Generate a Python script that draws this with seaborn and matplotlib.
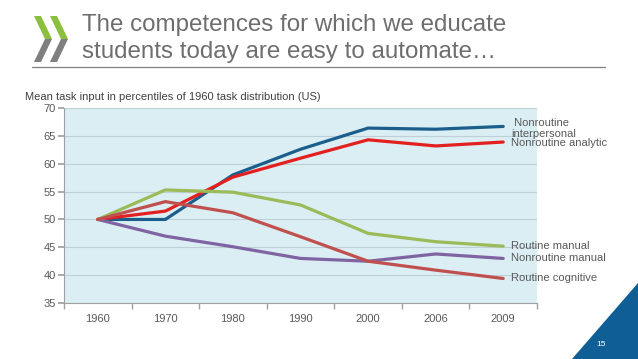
import matplotlib
matplotlib.use('Agg')
import matplotlib.pyplot as plt
import seaborn as sns
import pandas as pd
from matplotlib.patches import Polygon

# data
years = ['1960', '1970', '1980', '1990', '2000', '2006', '2009']
nonroutine_interpersonal = [50, 50, 58.0, 62.6, 66.4, 66.2, 66.7]
nonroutine_analytic = [50, 51.5, 57.6, 61.0, 64.3, 63.2, 63.9]
routine_manual = [50, 55.3, 54.9, 52.6, 47.5, 46.0, 45.2]
nonroutine_manual = [50, 47.0, 45.1, 43.0, 42.5, 43.8, 43.0]
routine_cognitive = [50, 53.2, 51.2, 46.9, 42.5, 40.9, 39.4]

series_names = ['Nonroutine interpersonal', 'Nonroutine analytic', 'Routine manual',
                'Nonroutine manual', 'Routine cognitive']
series_values = [nonroutine_interpersonal, nonroutine_analytic, routine_manual,
                 nonroutine_manual, routine_cognitive]
label_texts = [' Nonroutine\ninterpersonal', 'Nonroutine analytic', 'Routine manual',
               'Nonroutine manual', 'Routine cognitive']
colors = ['#1B5E8B', '#E3201F', '#9BBB59', '#8064A2', '#C0504D']

df = pd.DataFrame([
    {'year': y, 'value': v, 'series': name}
    for name, vals in zip(series_names, series_values)
    for y, v in zip(years, vals)
])

sns.set_theme(style='white')
plt.rcParams['font.family'] = ['Liberation Sans', 'DejaVu Sans']

fig = plt.figure(figsize=(6.38, 3.59), dpi=100)
ax = fig.add_axes([0.1003, 0.156, 0.7414, 0.543])
ax.set_facecolor('#DAEEF3')

sns.lineplot(data=df, x='year', y='value', hue='series', hue_order=series_names,
             palette=colors, linewidth=2.3, legend=False, ax=ax, sort=False)

ax.set_xlim(-0.5, len(years) - 0.5)
ax.set_ylim(35, 70)
ax.set_yticks(range(35, 71, 5))
ax.set_xticks(range(len(years)))
ax.set_xticklabels(years)
ax.set_xticks([i - 0.5 for i in range(len(years) + 1)], minor=True)
ax.tick_params(axis='x', which='major', length=0, labelsize=8, colors='#595959', pad=8)
ax.tick_params(axis='x', which='minor', length=4, color='#A0A0A0', direction='out', bottom=True)
ax.tick_params(axis='y', length=4, color='#A0A0A0', labelsize=8, labelcolor='#595959',
               left=True, pad=2)
ax.yaxis.grid(True, color='#BFCFD6', linewidth=0.8)
ax.set_axisbelow(True)
for side in ['top', 'right']:
    ax.spines[side].set_visible(False)
for side in ['left', 'bottom']:
    ax.spines[side].set_color('#A0A0A0')
    ax.spines[side].set_linewidth(0.8)
ax.set_xlabel('')
ax.set_ylabel('')

# series labels next to the last point
for text, vals in zip(label_texts, series_values):
    yv = vals[-1]
    if text.startswith(' Nonroutine\n'):
        yv = vals[-1] - 0.3
    elif text == 'Nonroutine analytic':
        yv = vals[-1] - 0.2
    ax.text(len(years) - 1 + 0.12, yv, text, fontsize=8, color='#595959',
            va='center', ha='left', linespacing=1.15)

W, H = 638, 359

# slide title
fig.text(82 / W, 1 - 31 / H, 'The competences for which we educate',
         fontsize=17.4, color='#6E6E6E', va='baseline', ha='left')
fig.text(82 / W, 1 - 58 / H, 'students today are easy to automate…',
         fontsize=17.4, color='#6E6E6E', va='baseline', ha='left')
fig.add_artist(plt.Line2D([32 / W, 605 / W], [1 - 67 / H, 1 - 67 / H],
                          color='#808080', linewidth=0.9, transform=fig.transFigure))
fig.text(25 / W, 1 - 97 / H, 'Mean task input in percentiles of 1960 task distribution (US)',
         fontsize=8, color='#404040', va='center', ha='left')


def fpoly(pts, color):
    fig.add_artist(Polygon([(x / W, 1 - y / H) for x, y in pts], closed=True,
                           facecolor=color, edgecolor='none', transform=fig.transFigure))


# logo chevrons
for dx in (0, 16):
    fpoly([(34 + dx, 16), (41 + dx, 16), (52 + dx, 39), (45 + dx, 39)], '#8CBF3F')
    fpoly([(45 + dx, 39), (52 + dx, 39), (41 + dx, 62), (34 + dx, 62)], '#7F7F7F')

# corner triangle and page number
fpoly([(572, 359), (638, 283), (638, 359)], '#0F5F96')
fig.text(601 / W, 1 - 345 / H, '15', fontsize=6, color='white', ha='center', va='center')

fig.savefig('out.png', dpi=100)
